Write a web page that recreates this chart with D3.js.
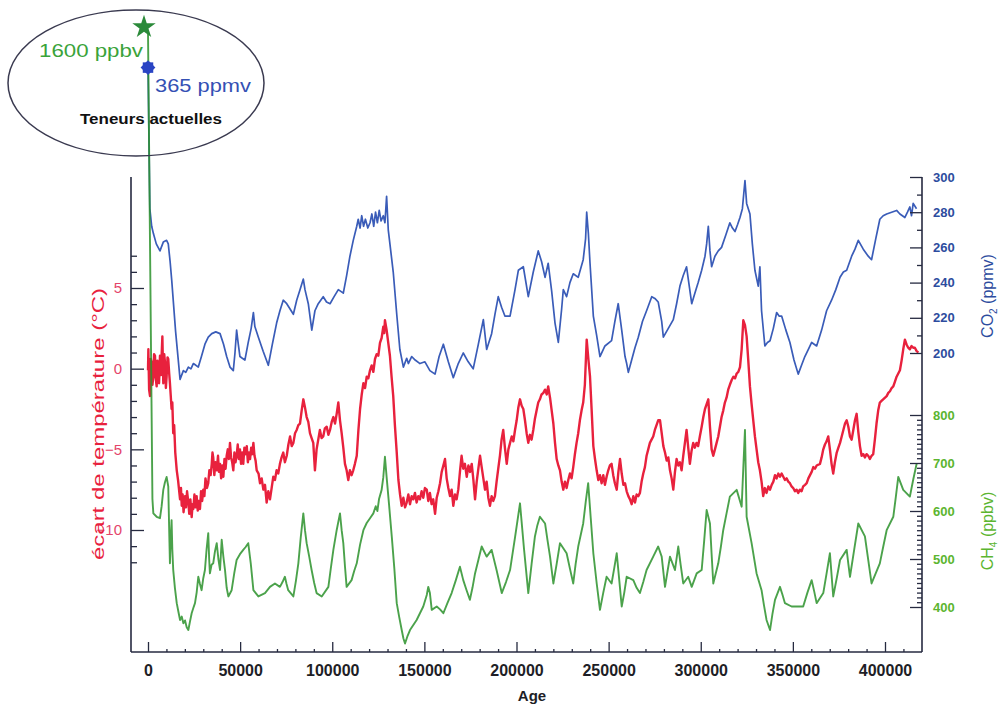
<!DOCTYPE html>
<html><head><meta charset="utf-8">
<script src="https://cdn.jsdelivr.net/npm/d3@7"></script>
<style>body{margin:0;background:#fff;} svg{display:block;}</style>
</head><body><svg id="c" width="998" height="706"></svg>
<script>
// ---------- DATA (age in years BP) ----------
const co2Data = [
[0,365],[1000,282],[2000,272],[2900,268],[4500,262],[6500,258],[8300,263],[10100,264],[11000,262],[12000,252],[12900,241],[15000,212],[17400,185],[19200,190],[20500,189],[21900,192],[23300,191],[24600,194],[26000,193],[27300,192],[29000,198],[30900,205],[32700,209],[34600,211],[36800,212],[39100,211],[41000,205],[42700,198],[44500,192],[46300,190],[47200,200],[48100,213],[49000,205],[49900,198],[51200,197],[52600,196],[54400,206],[56000,214],[57200,223],[58000,215],[59900,209],[62500,201],[65300,193],[67500,205],[69800,217],[71600,224],[73400,230],[75300,228],[78900,222],[80700,230],[82500,236],[84300,242],[85200,236],[87000,228],[88900,213],[90600,224],[92400,228],[95100,232],[96900,229],[98800,228],[101000,232],[103300,236],[106000,234],[107800,244],[109600,255],[111400,264],[113300,272],[114100,276],[115100,271],[116000,278],[117000,272],[118000,276],[119300,271],[120500,274],[121500,279],[122500,272],[123500,280],[124500,274],[125500,281],[126500,275],[127700,278],[128600,274],[129500,289],[130400,270],[131300,262],[133100,246],[135000,222],[136700,202],[138600,192],[140400,197],[141300,194],[143100,198],[145000,196],[147600,194],[150300,195],[153000,190],[155800,188],[158000,198],[160300,205],[163000,195],[165700,186],[168400,194],[171100,200],[173800,195],[176500,191],[179300,205],[182000,219],[183800,202],[186500,211],[188300,222],[190100,232],[191900,226],[193700,221],[196500,221],[199200,236],[201000,247],[203700,249],[206400,232],[209100,246],[211800,258],[213600,252],[215500,243],[217200,251],[219100,235],[220900,217],[222700,206],[224500,225],[225400,236],[227200,232],[229000,240],[230800,245],[233500,243],[236200,253],[237500,265],[238100,280],[239000,268],[239900,251],[241700,221],[243500,210],[245300,198],[248000,204],[251600,207],[253400,218],[255200,228],[257100,213],[258900,198],[259800,194],[260700,189],[262500,196],[264300,203],[266100,209],[268400,218],[270600,224],[273400,232],[275100,231],[276900,229],[278800,218],[279700,209],[282400,214],[285100,219],[286900,228],[288700,238],[290500,244],[292300,249],[295100,228],[296800,234],[298600,240],[300500,247],[302300,255],[303200,262],[304100,272],[305000,258],[305900,249],[307700,255],[309500,258],[311300,260],[313600,267],[315800,274],[317200,271],[318600,269],[320000,273],[321300,277],[322600,282],[324000,298],[324900,285],[326700,279],[328000,262],[329400,247],[331200,238],[332100,249],[333000,224],[334800,204],[336200,206],[337600,207],[339400,214],[341200,223],[342500,221],[343900,221],[346200,213],[348400,206],[350600,196],[352900,188],[354700,193],[356500,198],[358400,202],[360200,206],[362900,204],[365600,213],[368300,224],[371000,230],[373300,236],[375600,243],[377400,246],[379200,247],[381900,255],[383700,259],[385500,264],[388200,259],[390900,255],[392700,253],[395000,265],[397200,276],[399000,278],[400900,279],[403600,280],[406300,281],[408100,279],[410800,277],[412200,280],[413500,283],[414400,278],[415300,285],[417100,282]
];
const tempData = [
[0,-0.1],[200,1.2],[600,-1.3],[1100,-1.7],[1500,0.6],[2000,0.4],[2400,-1.0],[2900,-0.5],[3300,0.9],[3800,0.8],[4200,-0.6],[4700,-1.1],[5100,0.5],[5600,-0.1],[6000,-0.9],[6500,0.8],[7000,-0.4],[7800,2.0],[8300,-0.9],[8800,0.9],[9200,0.4],[9700,-1.2],[10100,-0.5],[10600,0.7],[11000,0.6],[11500,-0.3],[11900,-0.9],[12300,-1.6],[12800,-2.5],[13200,-2.1],[13700,-4.0],[14200,-3.5],[14800,-5.2],[15600,-6.3],[16300,-6.9],[17400,-8.1],[17900,-7.4],[18300,-8.5],[18800,-7.8],[19300,-8.9],[20100,-7.9],[20600,-8.6],[21200,-7.6],[21900,-8.3],[22400,-9.0],[23000,-8.1],[23700,-9.2],[24200,-8.4],[24600,-8.7],[25200,-7.8],[25800,-8.6],[26400,-7.9],[27000,-8.8],[27500,-8.2],[28200,-8.7],[28800,-7.6],[29400,-8.2],[30000,-7.5],[30600,-7.9],[31200,-6.8],[32000,-7.4],[32700,-7.1],[33300,-6.3],[34000,-6.6],[34600,-5.9],[35000,-5.2],[35400,-5.5],[36000,-6.6],[36600,-5.8],[37300,-6.3],[38000,-5.4],[38500,-6.4],[39100,-5.9],[39700,-6.8],[40300,-6.0],[40900,-6.7],[41500,-5.6],[42100,-6.2],[42700,-5.4],[43300,-5.0],[43900,-5.6],[44500,-4.6],[45100,-5.5],[45700,-5.8],[46300,-6.3],[46900,-5.2],[47500,-5.8],[48100,-5.4],[48700,-4.7],[49300,-5.6],[49900,-5.0],[50500,-5.9],[51100,-5.2],[51700,-5.9],[52300,-4.9],[53000,-5.3],[53600,-4.8],[54200,-5.8],[54800,-5.2],[55400,-5.6],[56000,-4.9],[56600,-5.3],[57200,-4.6],[57800,-5.4],[58400,-5.7],[59000,-6.3],[60000,-6.5],[60800,-7.1],[61700,-6.8],[62600,-7.5],[63500,-7.2],[64400,-8.3],[65300,-7.6],[66200,-8.1],[67100,-7.4],[68000,-6.7],[68900,-6.9],[69800,-6.3],[70700,-6.5],[71600,-5.9],[72500,-5.5],[73400,-5.2],[74300,-5.8],[75300,-5.4],[76200,-4.7],[77100,-4.2],[78000,-4.8],[78900,-4.6],[79800,-4.0],[80700,-3.8],[81600,-3.5],[82500,-3.4],[83400,-2.6],[84300,-1.9],[85200,-2.4],[86100,-3.0],[87000,-3.3],[87900,-4.0],[88800,-4.3],[89700,-4.6],[90600,-6.3],[91500,-5.0],[92400,-4.4],[93300,-3.8],[94200,-4.3],[95100,-4.2],[96000,-3.7],[97000,-3.6],[97900,-4.1],[98800,-3.8],[99700,-3.3],[100600,-3.0],[101500,-3.4],[102400,-2.8],[103300,-2.1],[104200,-3.2],[105100,-4.0],[106000,-4.9],[106900,-5.9],[107800,-6.3],[108700,-6.9],[109600,-6.3],[110500,-6.6],[111400,-6.3],[112300,-5.9],[113300,-5.4],[114200,-3.8],[115100,-2.5],[116000,-1.6],[116900,-0.9],[117800,-1.2],[118700,-0.5],[119600,-0.6],[120500,-0.1],[121400,0.2],[122300,-0.2],[123200,0.6],[124100,0.9],[125000,0.8],[125900,1.6],[126800,1.9],[127700,2.6],[128200,2.2],[128600,3.0],[129500,2.4],[130400,1.6],[131300,0.8],[132200,-0.5],[133100,-1.7],[134000,-3.5],[135000,-5.2],[135900,-6.9],[136800,-7.8],[137700,-8.5],[138600,-8.0],[139500,-8.6],[140400,-8.3],[141300,-7.8],[142200,-8.4],[143100,-7.9],[144000,-8.1],[144900,-7.7],[145800,-8.3],[146700,-7.9],[147600,-8.1],[148500,-7.6],[149400,-8.0],[150300,-7.4],[151300,-7.5],[152100,-8.2],[153000,-7.7],[153900,-8.4],[154800,-8.1],[155800,-9.0],[156700,-8.0],[157600,-7.6],[158500,-7.1],[159400,-6.4],[160300,-6.0],[161200,-5.6],[162100,-6.8],[163000,-7.4],[163900,-7.9],[164800,-7.5],[165700,-8.5],[166600,-7.8],[167500,-8.1],[168400,-7.5],[169300,-6.4],[170200,-5.4],[171100,-6.2],[172000,-5.9],[173000,-6.7],[173900,-6.0],[174800,-6.4],[175700,-5.9],[176600,-6.9],[177500,-8.1],[178400,-7.0],[179300,-6.2],[180200,-5.4],[181100,-6.1],[182000,-6.8],[182900,-7.5],[183800,-7.0],[184700,-8.0],[185600,-8.5],[186500,-7.9],[187400,-8.2],[188300,-7.9],[189200,-7.0],[190100,-6.2],[191000,-5.4],[191900,-4.4],[192800,-3.8],[193700,-4.9],[194700,-5.9],[195600,-5.0],[196500,-4.6],[197400,-4.2],[198300,-4.5],[199200,-3.8],[200100,-3.2],[201000,-2.4],[201900,-1.9],[202800,-2.3],[203700,-2.5],[204600,-3.2],[205500,-4.0],[206400,-4.6],[207300,-4.1],[208200,-4.4],[209100,-3.8],[210000,-3.1],[210900,-2.6],[211800,-2.1],[212700,-1.9],[213600,-1.6],[214600,-1.5],[215500,-1.3],[216400,-1.6],[217200,-1.1],[218200,-1.8],[219100,-2.6],[220000,-3.4],[220900,-4.6],[221800,-5.6],[222700,-6.0],[223600,-6.3],[224500,-7.0],[225400,-7.5],[226300,-7.0],[227200,-7.4],[228100,-6.9],[229000,-6.5],[229900,-6.8],[230800,-6.1],[231700,-5.3],[232600,-4.6],[233500,-4.0],[234400,-3.2],[235300,-2.6],[236200,-2.1],[237100,-1.0],[238100,1.8],[239000,0.6],[239900,-0.5],[240800,-2.6],[241700,-4.8],[242600,-5.6],[243500,-6.3],[244400,-6.9],[245300,-6.6],[246200,-7.1],[247100,-6.6],[248000,-7.2],[248900,-6.7],[249800,-6.3],[250700,-6.0],[251600,-5.9],[252500,-6.6],[253400,-7.1],[254400,-7.5],[255300,-6.4],[256200,-5.6],[257100,-6.5],[258000,-7.2],[258900,-7.1],[259800,-7.6],[260700,-7.9],[261600,-8.1],[262500,-8.4],[263400,-7.9],[264300,-8.3],[265200,-7.8],[266100,-7.9],[267000,-7.7],[267900,-7.0],[268800,-6.5],[269700,-6.1],[270600,-5.4],[271500,-5.0],[272400,-4.6],[273300,-4.4],[274200,-4.2],[275100,-3.8],[276000,-3.5],[276900,-3.2],[277900,-3.2],[278800,-4.0],[279700,-4.8],[280600,-5.2],[281500,-5.7],[282400,-5.5],[283300,-6.3],[284200,-6.8],[285100,-7.5],[286000,-6.4],[286900,-5.6],[287800,-6.0],[288700,-5.8],[289600,-6.3],[290500,-5.4],[291400,-4.6],[292300,-3.8],[293200,-4.9],[294100,-5.9],[295000,-5.1],[295900,-4.6],[296800,-4.9],[297700,-4.6],[298600,-4.8],[299500,-4.2],[300500,-3.6],[301400,-3.0],[302300,-2.5],[303200,-2.2],[304100,-1.9],[305000,-3.6],[305900,-5.0],[306800,-5.4],[307700,-5.0],[308600,-4.6],[309500,-4.2],[310400,-3.6],[311300,-3.0],[312200,-2.6],[313100,-2.1],[314000,-1.8],[314900,-1.3],[315800,-1.0],[316800,-0.7],[317700,-0.5],[318600,-0.6],[319500,-0.3],[320400,-0.2],[321300,0.1],[322200,1.2],[323100,3.0],[324000,2.7],[324900,2.0],[325800,0.5],[326700,-1.1],[327600,-2.2],[328500,-3.2],[329400,-4.2],[330300,-5.0],[331200,-5.8],[332100,-6.3],[333000,-7.0],[333900,-7.9],[334800,-7.4],[335700,-7.7],[336700,-7.3],[337600,-7.5],[338500,-7.2],[339400,-7.0],[340300,-6.6],[341200,-6.8],[342100,-6.5],[343000,-6.7],[343900,-6.5],[344800,-6.7],[345700,-6.9],[346600,-6.8],[347500,-7.0],[348400,-7.1],[349300,-7.3],[350200,-7.4],[351100,-7.6],[352000,-7.5],[352900,-7.7],[353800,-7.5],[354700,-7.6],[355600,-7.3],[356600,-7.2],[357500,-7.1],[358400,-6.8],[359300,-6.6],[360200,-6.4],[361100,-6.1],[362000,-6.2],[362900,-6.0],[364700,-5.9],[365600,-5.5],[366500,-5.0],[367400,-4.7],[368300,-4.5],[369200,-4.2],[370100,-5.0],[371000,-5.9],[371900,-6.5],[372800,-5.8],[373800,-5.2],[374700,-4.9],[375600,-4.6],[376500,-4.2],[377400,-3.8],[378300,-3.4],[379200,-3.2],[380100,-3.6],[381000,-4.2],[381900,-4.4],[382800,-3.8],[383700,-3.2],[384600,-2.8],[385500,-3.9],[386400,-4.8],[387300,-5.4],[388200,-5.3],[389100,-5.5],[390000,-5.3],[390900,-5.4],[391800,-5.6],[392700,-5.4],[393600,-5.3],[394500,-4.4],[395400,-3.4],[396300,-2.6],[397200,-2.1],[398100,-2.0],[399000,-1.9],[400900,-1.7],[401800,-1.5],[402700,-1.4],[403600,-1.2],[404500,-1.1],[405400,-0.8],[406300,-0.5],[407200,-0.3],[408100,-0.1],[409000,0.5],[409900,1.2],[410800,1.8],[411700,1.5],[412600,1.3],[413500,1.2],[414400,1.4],[415300,1.3],[416200,1.3],[417100,1.1],[418100,1.0]
];
const ch4Data = [
[0,1600],[2400,625],[2900,595],[4700,588],[6500,585],[7400,610],[8300,644],[9200,660],[10100,671],[11000,651],[11500,560],[11900,491],[12300,540],[12800,581],[13200,520],[13700,477],[14600,440],[15600,408],[16500,390],[17400,373],[18300,380],[19200,366],[20100,372],[21000,358],[21900,352],[22800,370],[23700,387],[24600,398],[25500,408],[26400,430],[27300,463],[28200,448],[29100,435],[30000,460],[30900,477],[31800,520],[32700,554],[33200,500],[33600,470],[34500,488],[35400,491],[36300,515],[37300,533],[38200,500],[39100,477],[40000,540],[40900,505],[41800,477],[42700,440],[43600,422],[45400,435],[46800,470],[48100,498],[49900,510],[51700,519],[53000,525],[54400,533],[55800,490],[57200,435],[59900,422],[63500,429],[66200,442],[68900,449],[71600,442],[73000,452],[74300,463],[75200,448],[76100,435],[78900,422],[80300,455],[81600,491],[82900,545],[84300,595],[85200,560],[86100,533],[87500,505],[88800,477],[90200,450],[91500,429],[94300,422],[97900,442],[99200,480],[100600,519],[102400,560],[104200,595],[105100,560],[106000,533],[106900,485],[107800,442],[110500,456],[111900,475],[113300,491],[115100,530],[116900,560],[118700,575],[120500,585],[122300,595],[123600,610],[124500,600],[125400,625],[126800,644],[127700,670],[128600,713],[129500,671],[130900,610],[132300,547],[133700,480],[135000,408],[136300,380],[137700,352],[138600,335],[139500,324],[140900,340],[142200,352],[145800,373],[147600,387],[149400,401],[151300,425],[152100,442],[153000,429],[154000,394],[156700,401],[158500,395],[160300,387],[162500,408],[164800,429],[167000,455],[169300,484],[171100,456],[172900,435],[174700,415],[176100,440],[177500,470],[179300,498],[181100,526],[183800,505],[186500,519],[189300,475],[192000,429],[194300,452],[196500,477],[199200,545],[201900,616],[204100,520],[206400,429],[208200,490],[210000,547],[211300,570],[212700,588],[215500,574],[216800,540],[218200,505],[220000,449],[221800,490],[223600,533],[227200,512],[229000,480],[230800,449],[232100,490],[233500,526],[236200,574],[237600,620],[238900,658],[240300,585],[241700,512],[243500,450],[245300,394],[247100,430],[248900,463],[251600,449],[253000,480],[254400,512],[255800,455],[257100,401],[258500,430],[259800,463],[263400,456],[265200,440],[267000,429],[268800,452],[270600,477],[274200,505],[276900,526],[278800,505],[280600,442],[282000,475],[283300,505],[286000,477],[287800,526],[289100,488],[290500,449],[293200,463],[295100,442],[297800,470],[300500,477],[301900,540],[303200,602],[305000,574],[305900,510],[306800,449],[309500,491],[310900,525],[312200,560],[314000,595],[315800,630],[319500,644],[322200,609],[323100,690],[324000,769],[324900,588],[327600,533],[330300,470],[333000,435],[334300,404],[335700,373],[337600,352],[338900,385],[340300,415],[343000,442],[344400,425],[345700,408],[349300,401],[355600,401],[357900,430],[360200,456],[361600,432],[362900,408],[366500,429],[368300,470],[370100,512],[371000,467],[371900,422],[373800,460],[375600,498],[379200,519],[380100,490],[381000,463],[383300,520],[385500,574],[389100,547],[390900,498],[392700,449],[397200,491],[399000,525],[400900,560],[404500,588],[405900,630],[407200,671],[409900,644],[413500,630],[415300,665],[417200,699]
];

const xMajorTicks = [0,50000,100000,150000,200000,250000,300000,350000,400000];
const xMinorTicks = [10000,20000,30000,40000,60000,70000,80000,90000,110000,120000,130000,140000,160000,170000,180000,190000,210000,220000,230000,240000,260000,270000,280000,290000,310000,320000,330000,340000,360000,370000,380000,390000,410000];
const tempMajorTicks = [-10,-5,0,5];
const tempMinorTicks = [-12,-11,-9,-8,-7,-6,-4,-3,-2,-1,1,2,3,4,6,7];
const co2MajorTicks = [200,220,240,260,280,300];
const co2MinorTicks = [210,230,250,270,290];
const ch4MajorTicks = [400,500,600,700,800];
const ch4MinorTicks = [410,420,430,440,450,460,470,480,490,510,520,530,540,550,560,570,580,590,610,620,630,640,650,660,670,680,690,710,720,730,740,750,760,770,780,790];
const presentCO2 = 365;
const presentCH4 = 1600;
const texts = {
  xTitle: "Age",
  tempTitle: "écart de température (°C)",
  co2Title: ["CO", "2", " (ppmv)"],
  ch4Title: ["CH", "4", " (ppbv)"],
  ch4Now: "1600 ppbv",
  co2Now: "365 ppmv",
  now: "Teneurs actuelles"
};

// ---------- COLOURS ----------
const cBlue = "#3a5cb8", cRed = "#e8213d", cGreen = "#2c922c";
const cBlueTxt = "#2d4c9e", cGreenTxt = "#5cb530", cRedTxt = "#e4456a";
const axisCol = "#262a40";
const FONT = "'Liberation Sans', Arial, sans-serif";

// ---------- SCALES ----------
const svg = d3.select("#c");
const x = d3.scaleLinear().domain([0, 400000]).range([148, 885]);
const yT = d3.scaleLinear().domain([-10, 5]).range([530, 288]);
const yC = d3.scaleLinear().domain([200, 300]).range([353, 177]);
const yM = d3.scaleLinear().domain([400, 800]).range([607, 415]);

const frame = {left: 131, right: 922, top: 177, bottom: 652};

// ---------- CURVES ----------
const line = (ys) => d3.line().x(d => x(d[0])).y(d => ys(d[1]));
svg.append("path").datum(co2Data).attr("d", line(yC))
  .attr("fill", "none").attr("stroke", cBlue).attr("stroke-width", 1.7).attr("stroke-linejoin", "round");
svg.append("path").datum(tempData).attr("d", line(yT))
  .attr("fill", "none").attr("stroke", cRed).attr("stroke-width", 2.4).attr("stroke-linejoin", "round");
svg.append("path").datum(ch4Data).attr("d", line(yM))
  .attr("fill", "none").attr("stroke", cGreen).attr("stroke-opacity", 0.85).attr("stroke-width", 1.9).attr("stroke-linejoin", "round");

// ---------- AXES ----------
function styleAxis(g) {
  g.select(".domain").remove();
  g.selectAll("line").attr("stroke", axisCol).attr("stroke-width", 1.3);
  g.attr("font-family", FONT);
}
// bottom
svg.append("g").attr("transform", `translate(0,${frame.bottom})`)
  .call(d3.axisBottom(x).tickValues(xMinorTicks).tickSize(-3).tickFormat(""))
  .call(styleAxis);
svg.append("g").attr("transform", `translate(0,${frame.bottom})`)
  .call(d3.axisBottom(x).tickValues(xMajorTicks).tickSize(-10).tickPadding(13).tickFormat(d3.format("d")))
  .call(styleAxis)
  .call(g => g.selectAll("text").attr("font-size", 16).attr("font-weight", "bold").attr("fill", "#1e1e26"));
// left temperature
svg.append("g").attr("transform", `translate(${frame.left},0)`)
  .call(d3.axisLeft(yT).tickValues(tempMinorTicks).tickSize(-6).tickFormat(""))
  .call(styleAxis);
svg.append("g").attr("transform", `translate(${frame.left},0)`)
  .call(d3.axisLeft(yT).tickValues(tempMajorTicks).tickSize(-13).tickPadding(9).tickFormat(d3.format("d")))
  .call(styleAxis)
  .call(g => g.selectAll("text").attr("font-size", 15).attr("fill", cRedTxt));
// right CO2
svg.append("g").attr("transform", `translate(${frame.right},0)`)
  .call(d3.axisRight(yC).tickValues(co2MinorTicks).tickSize(-5).tickFormat(""))
  .call(styleAxis);
svg.append("g").attr("transform", `translate(${frame.right},0)`)
  .call(d3.axisRight(yC).tickValues(co2MajorTicks).tickSize(-12).tickPadding(11).tickFormat(d3.format("d")))
  .call(styleAxis)
  .call(g => g.selectAll("text").attr("font-size", 13).attr("font-weight", "bold").attr("fill", cBlueTxt));
// right CH4
svg.append("g").attr("transform", `translate(${frame.right},0)`)
  .call(d3.axisRight(yM).tickValues(ch4MinorTicks).tickSize(-5).tickFormat(""))
  .call(styleAxis);
svg.append("g").attr("transform", `translate(${frame.right},0)`)
  .call(d3.axisRight(yM).tickValues(ch4MajorTicks).tickSize(-12).tickPadding(11).tickFormat(d3.format("d")))
  .call(styleAxis)
  .call(g => g.selectAll("text").attr("font-size", 13).attr("font-weight", "bold").attr("fill", cGreenTxt));

// axis lines (frame)
const fr = svg.append("g").attr("stroke", axisCol).attr("stroke-width", 1.6);
fr.append("line").attr("x1", frame.left).attr("x2", frame.left).attr("y1", frame.top).attr("y2", frame.bottom);
fr.append("line").attr("x1", frame.right).attr("x2", frame.right).attr("y1", frame.top).attr("y2", frame.bottom);
fr.append("line").attr("x1", frame.left).attr("x2", frame.right).attr("y1", frame.bottom).attr("y2", frame.bottom);

// ---------- TITLES ----------
svg.append("text").attr("x", 532).attr("y", 701).attr("text-anchor", "middle")
  .attr("font-family", FONT).attr("font-weight", "bold").attr("font-size", 15).attr("fill", "#1e1e26")
  .text(texts.xTitle);
svg.append("text").attr("transform", "translate(104,424) rotate(-90)").attr("text-anchor", "middle")
  .attr("font-family", FONT).attr("font-size", 16).attr("fill", cRed)
  .attr("textLength", 272).attr("lengthAdjust", "spacingAndGlyphs")
  .text(texts.tempTitle);
function subTitle(tx, ty, parts, col, len) {
  const t = svg.append("text").attr("transform", `translate(${tx},${ty}) rotate(-90)`).attr("text-anchor", "middle")
    .attr("font-family", FONT).attr("font-size", 16).attr("fill", col);
  t.append("tspan").text(parts[0]);
  t.append("tspan").attr("font-size", 10).attr("dy", 4).text(parts[1]);
  t.append("tspan").attr("dy", -4).text(parts[2]);
}
subTitle(993, 296, texts.co2Title, cBlueTxt);
subTitle(993, 531, texts.ch4Title, cGreenTxt);

// ---------- PRESENT-DAY ANNOTATION ----------
svg.append("ellipse").attr("cx", 136).attr("cy", 83).attr("rx", 128).attr("ry", 73)
  .attr("fill", "none").attr("stroke", "#3a3a50").attr("stroke-width", 1.5);
svg.append("path").attr("d", d3.symbol(d3.symbolStar, 170)())
  .attr("transform", `translate(${x(0) - 4},${yM(presentCH4) - 4})`)
  .attr("fill", "#2b8a3a");
const sq = d3.symbol(d3.symbolSquare, 110)();
[0, 45].forEach(r => svg.append("path").attr("d", sq)
  .attr("transform", `translate(${x(0)},${yC(presentCO2) + 5}) rotate(${r})`)
  .attr("fill", "#2a44c4"));
svg.append("text").attr("x", 143).attr("y", 57).attr("text-anchor", "end")
  .attr("font-family", FONT).attr("font-size", 18).attr("fill", "#3aa33a")
  .attr("textLength", 104).attr("lengthAdjust", "spacingAndGlyphs").text(texts.ch4Now);
svg.append("text").attr("x", 155).attr("y", 92)
  .attr("font-family", FONT).attr("font-size", 18).attr("fill", "#3450b4")
  .attr("textLength", 96).attr("lengthAdjust", "spacingAndGlyphs").text(texts.co2Now);
svg.append("text").attr("x", 80).attr("y", 124)
  .attr("font-family", FONT).attr("font-size", 14).attr("font-weight", "bold").attr("fill", "#111")
  .attr("textLength", 142).attr("lengthAdjust", "spacingAndGlyphs").text(texts.now);
</script>
</body></html>
